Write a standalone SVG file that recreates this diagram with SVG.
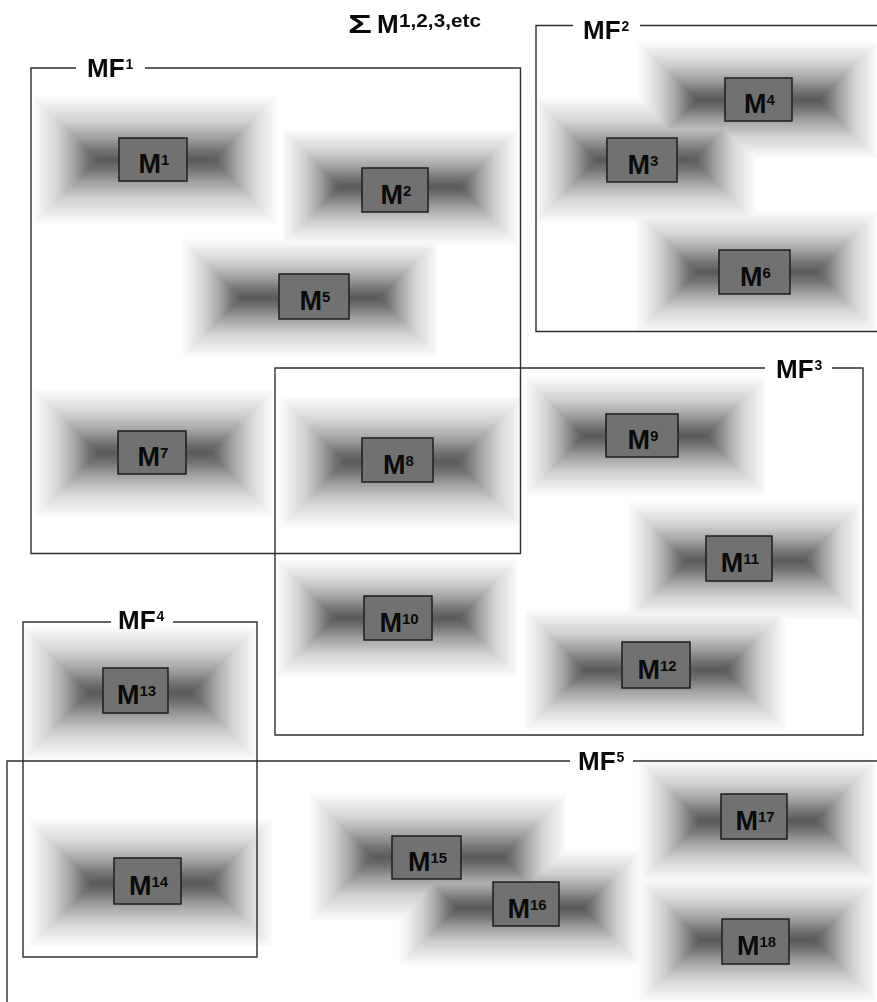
<svg xmlns="http://www.w3.org/2000/svg" width="877" height="1002" viewBox="0 0 877 1002">
<defs>
<linearGradient id="gT" x1="0" y1="0" x2="0" y2="1"><stop offset="0" stop-color="#fbfbfb"/><stop offset="0.12" stop-color="#efefef"/><stop offset="0.38" stop-color="#d2d2d2"/><stop offset="0.64" stop-color="#a3a3a3"/><stop offset="0.85" stop-color="#737373"/><stop offset="1" stop-color="#5a5a5a"/></linearGradient>
<linearGradient id="gB" href="#gT" x1="0" y1="1" x2="0" y2="0"/>
<linearGradient id="gL" href="#gT" x1="0" y1="0" x2="1" y2="0"/>
<linearGradient id="gR" href="#gT" x1="1" y1="0" x2="0" y2="0"/>
</defs>
<style>
.sh{mix-blend-mode:darken}
.sh polygon{stroke-width:0.7}
.t{fill:url(#gT);stroke:url(#gT)}
.b{fill:url(#gB);stroke:url(#gB)}
.l{fill:url(#gL);stroke:url(#gL)}
.r{fill:url(#gR);stroke:url(#gR)}
.box{fill:#717171;stroke:#1e1e1e;stroke-width:1.5}
.lbl{font-family:"Liberation Sans",Arial,sans-serif;font-weight:bold;font-size:27px;fill:#0a0a0a;text-anchor:middle}
.sup{font-size:15px}
.frame{fill:none;stroke:#2e2e2e;stroke-width:1.4}
.flbl{font-family:"Liberation Sans",Arial,sans-serif;font-weight:bold;font-size:26px;fill:#0a0a0a}
.fsup{font-size:14px}
</style>
<rect width="877" height="1002" fill="#ffffff"/>

<g id="nodes">
<g id="M1"><g class="sh"><polygon class="t" points="34,97 276,97 213,160 97,160"/><polygon class="b" points="34,223 276,223 213,160 97,160"/><polygon class="l" points="34,97 97,160 34,223"/><polygon class="r" points="276,97 213,160 276,223"/></g><rect class="box" x="119" y="138" width="68" height="43"/><text class="lbl" x="154" y="173">M<tspan class="sup" dy="-8">1</tspan></text></g>
<g id="M2"><g class="sh"><polygon class="t" points="283,130 517,130 460,187 340,187"/><polygon class="b" points="283,244 517,244 460,187 340,187"/><polygon class="l" points="283,130 340,187 283,244"/><polygon class="r" points="517,130 460,187 517,244"/></g><rect class="box" x="362" y="168" width="66" height="44"/><text class="lbl" x="396" y="203.5">M<tspan class="sup" dy="-8">2</tspan></text></g>
<g id="M3"><g class="sh"><polygon class="t" points="535,98 755,98 693,160 597,160"/><polygon class="b" points="535,222 755,222 693,160 597,160"/><polygon class="l" points="535,98 597,160 535,222"/><polygon class="r" points="755,98 693,160 755,222"/></g><rect class="box" x="607" y="138" width="70" height="44"/><text class="lbl" x="643" y="173.5">M<tspan class="sup" dy="-8">3</tspan></text></g>
<g id="M4"><g class="sh"><polygon class="t" points="639,42 877,42 819,100 697,100"/><polygon class="b" points="639,158 877,158 819,100 697,100"/><polygon class="l" points="639,42 697,100 639,158"/><polygon class="r" points="877,42 819,100 877,158"/></g><rect class="box" x="725" y="78" width="67" height="43"/><text class="lbl" x="759.5" y="113">M<tspan class="sup" dy="-8">4</tspan></text></g>
<g id="M5"><g class="sh"><polygon class="t" points="183,240 437,240 379,298 241,298"/><polygon class="b" points="183,356 437,356 379,298 241,298"/><polygon class="l" points="183,240 241,298 183,356"/><polygon class="r" points="437,240 379,298 437,356"/></g><rect class="box" x="279" y="274" width="70" height="45"/><text class="lbl" x="315" y="310">M<tspan class="sup" dy="-8">5</tspan></text></g>
<g id="M6"><g class="sh"><polygon class="t" points="637,212 877,212 817,272 697,272"/><polygon class="b" points="637,332 877,332 817,272 697,272"/><polygon class="l" points="637,212 697,272 637,332"/><polygon class="r" points="877,212 817,272 877,332"/></g><rect class="box" x="719" y="250" width="71" height="44"/><text class="lbl" x="755.5" y="285.5">M<tspan class="sup" dy="-8">6</tspan></text></g>
<g id="M7"><g class="sh"><polygon class="t" points="35,390 273,390 210,453 98,453"/><polygon class="b" points="35,516 273,516 210,453 98,453"/><polygon class="l" points="35,390 98,453 35,516"/><polygon class="r" points="273,390 210,453 273,516"/></g><rect class="box" x="118" y="431" width="68" height="43"/><text class="lbl" x="153" y="466">M<tspan class="sup" dy="-8">7</tspan></text></g>
<g id="M8"><g class="sh"><polygon class="t" points="280,397 522,397 457,462 345,462"/><polygon class="b" points="280,527 522,527 457,462 345,462"/><polygon class="l" points="280,397 345,462 280,527"/><polygon class="r" points="522,397 457,462 522,527"/></g><rect class="box" x="362" y="438" width="71" height="44"/><text class="lbl" x="398.5" y="473.5">M<tspan class="sup" dy="-8">8</tspan></text></g>
<g id="M9"><g class="sh"><polygon class="t" points="525,377 765,377 706,436 584,436"/><polygon class="b" points="525,495 765,495 706,436 584,436"/><polygon class="l" points="525,377 584,436 525,495"/><polygon class="r" points="765,377 706,436 765,495"/></g><rect class="box" x="606" y="414" width="72" height="43"/><text class="lbl" x="643" y="449">M<tspan class="sup" dy="-8">9</tspan></text></g>
<g id="M10"><g class="sh"><polygon class="t" points="277,560 517,560 459,618 335,618"/><polygon class="b" points="277,676 517,676 459,618 335,618"/><polygon class="l" points="277,560 335,618 277,676"/><polygon class="r" points="517,560 459,618 517,676"/></g><rect class="box" x="364" y="596" width="68" height="44"/><text class="lbl" x="399" y="631.5">M<tspan class="sup" dy="-8">10</tspan></text></g>
<g id="M11"><g class="sh"><polygon class="t" points="629,503 861,503 803,561 687,561"/><polygon class="b" points="629,619 861,619 803,561 687,561"/><polygon class="l" points="629,503 687,561 629,619"/><polygon class="r" points="861,503 803,561 861,619"/></g><rect class="box" x="706" y="536" width="66" height="45"/><text class="lbl" x="740" y="572">M<tspan class="sup" dy="-8">11</tspan></text></g>
<g id="M12"><g class="sh"><polygon class="t" points="525,610 785,610 725,670 585,670"/><polygon class="b" points="525,730 785,730 725,670 585,670"/><polygon class="l" points="525,610 585,670 525,730"/><polygon class="r" points="785,610 725,670 785,730"/></g><rect class="box" x="622" y="642" width="68" height="46"/><text class="lbl" x="657" y="678.5">M<tspan class="sup" dy="-8">12</tspan></text></g>
<g id="M13"><g class="sh"><polygon class="t" points="23,627 257,627 191,693 89,693"/><polygon class="b" points="23,759 257,759 191,693 89,693"/><polygon class="l" points="23,627 89,693 23,759"/><polygon class="r" points="257,627 191,693 257,759"/></g><rect class="box" x="103" y="668" width="65" height="45"/><text class="lbl" x="136.5" y="704">M<tspan class="sup" dy="-8">13</tspan></text></g>
<g id="M14"><g class="sh"><polygon class="t" points="30,820 272,820 209,883 93,883"/><polygon class="b" points="30,946 272,946 209,883 93,883"/><polygon class="l" points="30,820 93,883 30,946"/><polygon class="r" points="272,820 209,883 272,946"/></g><rect class="box" x="114" y="858" width="67" height="46"/><text class="lbl" x="148.5" y="894.5">M<tspan class="sup" dy="-8">14</tspan></text></g>
<g id="M15"><g class="sh"><polygon class="t" points="310,794 566,794 503,857 373,857"/><polygon class="b" points="310,920 566,920 503,857 373,857"/><polygon class="l" points="310,794 373,857 310,920"/><polygon class="r" points="566,794 503,857 566,920"/></g><rect class="box" x="392" y="836" width="69" height="43"/><text class="lbl" x="427.5" y="871">M<tspan class="sup" dy="-8">15</tspan></text></g>
<g id="M16"><g class="sh"><polygon class="t" points="400,851 640,851 583,908 457,908"/><polygon class="b" points="400,965 640,965 583,908 457,908"/><polygon class="l" points="400,851 457,908 400,965"/><polygon class="r" points="640,851 583,908 640,965"/></g><rect class="box" x="493" y="882" width="66" height="44"/><text class="lbl" x="527" y="917.5">M<tspan class="sup" dy="-8">16</tspan></text></g>
<g id="M17"><g class="sh"><polygon class="t" points="640,760 876,760 815,821 701,821"/><polygon class="b" points="640,882 876,882 815,821 701,821"/><polygon class="l" points="640,760 701,821 640,882"/><polygon class="r" points="876,760 815,821 876,882"/></g><rect class="box" x="721" y="794" width="66" height="45"/><text class="lbl" x="755" y="830">M<tspan class="sup" dy="-8">17</tspan></text></g>
<g id="M18"><g class="sh"><polygon class="t" points="640,879 876,879 815,940 701,940"/><polygon class="b" points="640,1001 876,1001 815,940 701,940"/><polygon class="l" points="640,879 701,940 640,1001"/><polygon class="r" points="876,879 815,940 876,1001"/></g><rect class="box" x="722" y="919" width="67" height="45"/><text class="lbl" x="756.5" y="955">M<tspan class="sup" dy="-8">18</tspan></text></g>
</g>

<g id="frames">
<g id="MF1"><path class="frame" d="M76,68 H31 V553.5 H520.5 V68 H145"/><text class="flbl" x="87" y="77">MF<tspan class="fsup" dx="1" dy="-8">1</tspan></text></g>
<g id="MF2"><path class="frame" d="M573,25.5 H536 V331.5 H880 M640,25.5 H880"/><text class="flbl" x="583" y="39">MF<tspan class="fsup" dx="1" dy="-8">2</tspan></text></g>
<g id="MF3"><path class="frame" d="M765,368 H275 V735 H863 V368 H832"/><text class="flbl" x="776" y="378">MF<tspan class="fsup" dx="1" dy="-8">3</tspan></text></g>
<g id="MF4"><path class="frame" d="M111,622 H23 V957 H257 V622 H173"/><text class="flbl" x="118" y="629">MF<tspan class="fsup" dx="1" dy="-8">4</tspan></text></g>
<g id="MF5"><path class="frame" d="M570,761 H7 V1005 M633,761 H880"/><text class="flbl" x="578" y="770">MF<tspan class="fsup" dx="1" dy="-8">5</tspan></text></g>
</g>

<g id="connectors"/>

<g id="title">
<text class="flbl" x="348" y="33" textLength="24" lengthAdjust="spacingAndGlyphs">Σ</text>
<text class="flbl" x="377" y="33">M</text>
<text class="flbl" x="399" y="27" style="font-size:18px" textLength="82" lengthAdjust="spacingAndGlyphs">1,2,3,etc</text>
</g>
</svg>
